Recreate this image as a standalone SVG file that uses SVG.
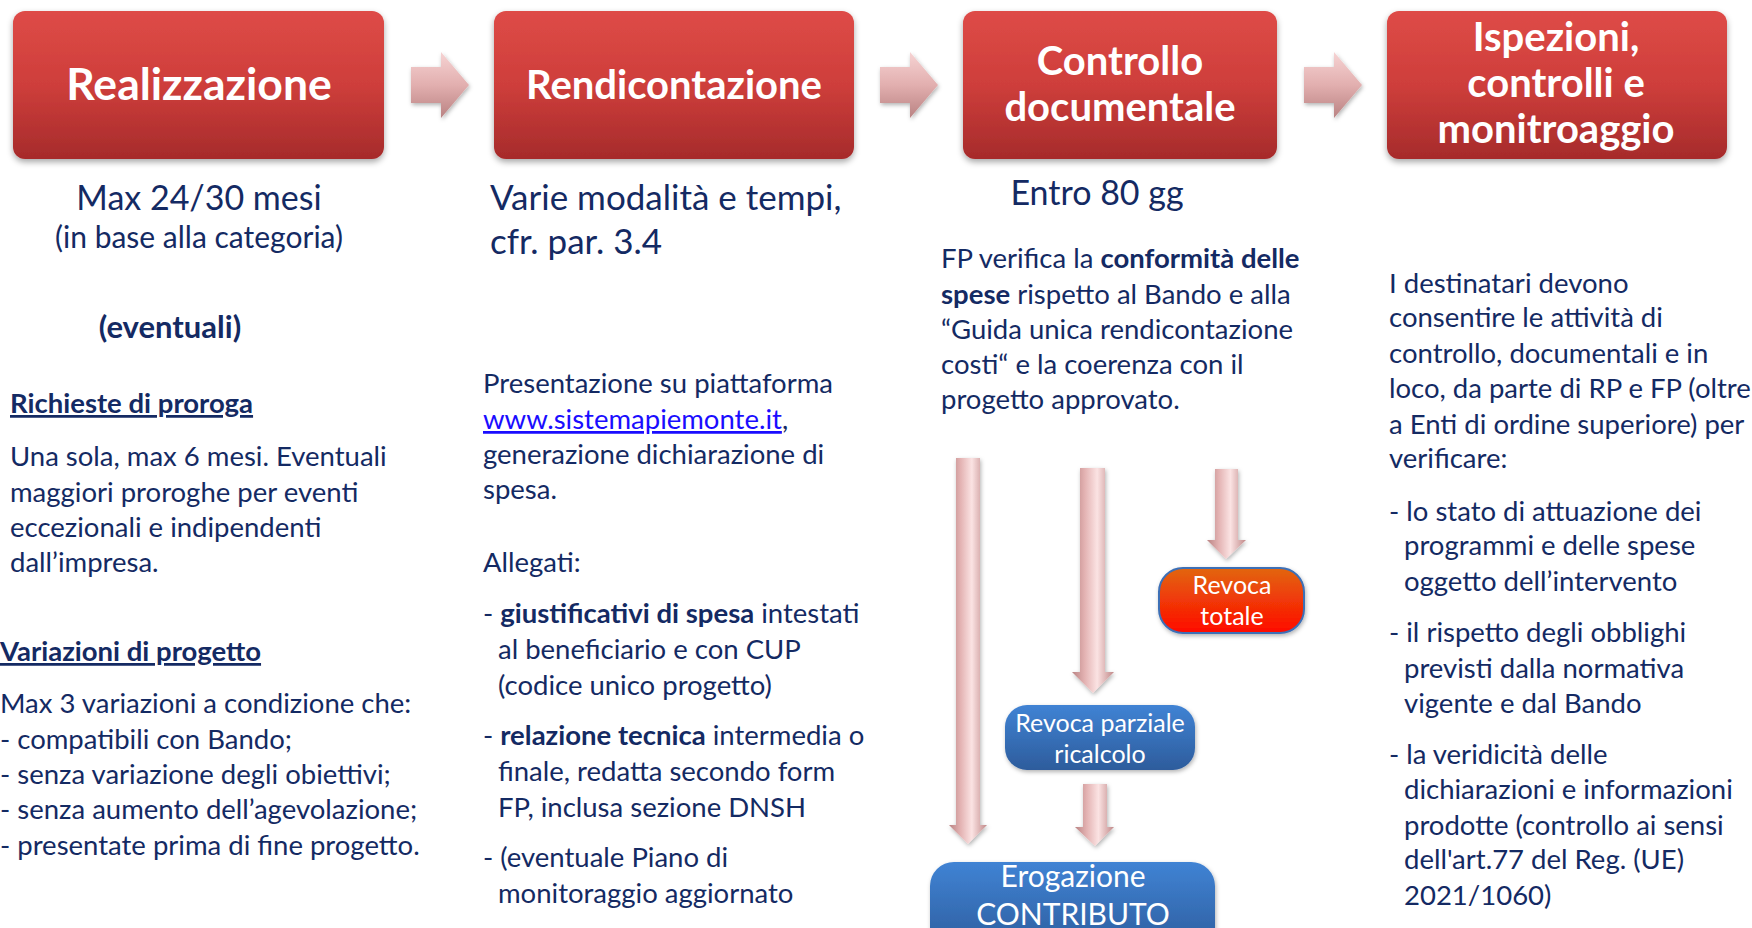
<svg xmlns="http://www.w3.org/2000/svg" width="1752" height="928" viewBox="0 0 1752 928">
<defs>
<linearGradient id="gRed" x1="0" y1="0" x2="0" y2="1">
<stop offset="0" stop-color="#DE4B47"/><stop offset="0.5" stop-color="#CE3E3B"/><stop offset="1" stop-color="#A62B2B"/>
</linearGradient>
<linearGradient id="gPinkH" x1="0" y1="0" x2="0" y2="1">
<stop offset="0" stop-color="#F6D3D3"/><stop offset="0.5" stop-color="#E2AFAF"/><stop offset="1" stop-color="#B98282"/>
</linearGradient>
<linearGradient id="gPinkV" x1="0" y1="0" x2="1" y2="0">
<stop offset="0" stop-color="#B98383"/><stop offset="0.3" stop-color="#E3B2B2"/><stop offset="0.6" stop-color="#FBE3E3"/><stop offset="1" stop-color="#C08888"/>
</linearGradient>
<linearGradient id="gBlue" x1="0" y1="0" x2="0" y2="1">
<stop offset="0" stop-color="#4083D4"/><stop offset="1" stop-color="#2D5C9C"/>
</linearGradient>
<linearGradient id="gOrange" x1="0" y1="0" x2="0" y2="1">
<stop offset="0" stop-color="#E2660E"/><stop offset="1" stop-color="#FF0A00"/>
</linearGradient>
<filter id="sh" x="-10%" y="-10%" width="120%" height="130%">
<feDropShadow dx="0" dy="3" stdDeviation="3" flood-color="#000" flood-opacity="0.35"/>
</filter>
<filter id="sh2" x="-20%" y="-10%" width="140%" height="130%">
<feDropShadow dx="1" dy="2" stdDeviation="2" flood-color="#000" flood-opacity="0.3"/>
</filter>
</defs>
<style>
text{font-family:Lato,"Liberation Sans",sans-serif;}
.t{fill:#fff;font-weight:700;font-size:40px;text-anchor:middle;}
.b{fill:#142A63;font-size:27.5px;}
.sub{fill:#142A63;font-size:34px;}
.bold{font-weight:700;}
.u{text-decoration:underline;}
.w{fill:#fff;text-anchor:middle;}
.link{fill:#1A0DFF;text-decoration:underline;}
.red{fill:url(#gRed);filter:url(#sh);}
.pa{fill:url(#gPinkH);filter:url(#sh2);}
.pd{fill:url(#gPinkV);filter:url(#sh2);}
</style>
<rect width="1752" height="928" fill="#fff"/>

<g id="connectors">
<path class="pa" d="M411,67 H441 V52 L469,85 L441,118 V103 H411 Z"/>
<path class="pa" d="M880,67 H910 V52 L938,85 L910,118 V103 H880 Z"/>
<path class="pa" d="M1304,67 H1334 V52 L1362,85 L1334,118 V103 H1304 Z"/>
<path class="pd" d="M956,458 H980 V825 H987 L968,844 L949,825 H956 Z"/>
<path class="pd" d="M1080,468 H1105 V672 H1114 L1093,693 L1072,672 H1080 Z"/>
<path class="pd" d="M1215,469 H1238 V540 H1246 L1226,559 L1207,540 H1215 Z"/>
<path class="pd" d="M1083,784 H1107 V827 H1114 L1095,846 L1075,827 H1083 Z"/>
</g>

<g id="n-realizzazione">
<rect class="red" x="13" y="11" width="371" height="148" rx="12"/>
<text class="t" x="199" y="100" style="font-size:44.5px">Realizzazione</text>
</g>
<g id="n-rendicontazione">
<rect class="red" x="494" y="11" width="360" height="148" rx="12"/>
<text class="t" x="674" y="99">Rendicontazione</text>
</g>
<g id="n-controllo">
<rect class="red" x="963" y="11" width="314" height="148" rx="12"/>
<text class="t" x="1120" y="75">Controllo</text>
<text class="t" x="1120" y="121">documentale</text>
</g>
<g id="n-ispezioni">
<rect class="red" x="1387" y="11" width="340" height="148" rx="12"/>
<text class="t" x="1556" y="51">Ispezioni,</text>
<text class="t" x="1556" y="97">controlli e</text>
<text class="t" x="1556" y="143">monitroaggio</text>
</g>

<g id="n-revoca-totale">
<rect x="1159" y="568" width="145" height="65" rx="24" fill="url(#gOrange)" stroke="#3C6FB6" stroke-width="2" filter="url(#sh2)"/>
<text class="w" x="1232" y="594" font-size="25">Revoca</text>
<text class="w" x="1232" y="625" font-size="25">totale</text>
</g>
<g id="n-revoca-parziale">
<rect x="1005" y="705" width="190" height="65" rx="22" fill="url(#gBlue)" filter="url(#sh2)"/>
<text class="w" x="1100" y="732" font-size="25">Revoca parziale</text>
<text class="w" x="1100" y="763" font-size="25">ricalcolo</text>
</g>
<g id="n-erogazione">
<rect x="930" y="862" width="285" height="90" rx="24" fill="url(#gBlue)" filter="url(#sh2)"/>
<text class="w" x="1073" y="887" font-size="30">Erogazione</text>
<text class="w" x="1073" y="925" font-size="30">CONTRIBUTO</text>
</g>

<g id="col1">
<text class="sub" x="199" y="210" text-anchor="middle">Max 24/30 mesi</text>
<text class="b" x="199" y="248" text-anchor="middle" style="font-size:30px">(in base alla categoria)</text>
<text class="b bold" x="170" y="338" text-anchor="middle" style="font-size:31px">(eventuali)</text>
<text class="b bold u" x="10" y="413">Richieste di proroga</text>
<text class="b" x="10" y="466">Una sola, max 6 mesi. Eventuali</text>
<text class="b" x="10" y="502">maggiori proroghe per eventi</text>
<text class="b" x="10" y="537">eccezionali e indipendenti</text>
<text class="b" x="10" y="572">dall’impresa.</text>
<text class="b bold u" x="0" y="661">Variazioni di progetto</text>
<text class="b" x="0" y="713">Max 3 variazioni a condizione che:</text>
<text class="b" x="0" y="749">- compatibili con Bando;</text>
<text class="b" x="0" y="784">- senza variazione degli obiettivi;</text>
<text class="b" x="0" y="819">- senza aumento dell’agevolazione;</text>
<text class="b" x="0" y="855">- presentate prima di fine progetto.</text>
</g>

<g id="col2">
<text class="sub" x="490" y="210" style="font-size:35px">Varie modalità e tempi,</text>
<text class="sub" x="490" y="254" style="font-size:35px">cfr. par. 3.4</text>
<text class="b" x="483" y="393">Presentazione su piattaforma</text>
<text class="b" x="483" y="429"><tspan class="link">www.sistemapiemonte.it</tspan>,</text>
<text class="b" x="483" y="464">generazione dichiarazione di</text>
<text class="b" x="483" y="499">spesa.</text>
<text class="b" x="483" y="572">Allegati:</text>
<text class="b" x="483" y="623">- <tspan class="bold">giustificativi di spesa</tspan> intestati</text>
<text class="b" x="498" y="659">al beneficiario e con CUP</text>
<text class="b" x="498" y="695">(codice unico progetto)</text>
<text class="b" x="483" y="745">- <tspan class="bold">relazione tecnica</tspan> intermedia o</text>
<text class="b" x="498" y="781">finale, redatta secondo form</text>
<text class="b" x="498" y="817">FP, inclusa sezione DNSH</text>
<text class="b" x="483" y="867">- (eventuale Piano di</text>
<text class="b" x="498" y="903">monitoraggio aggiornato</text>
</g>

<g id="col3">
<text class="sub" x="1097" y="205" text-anchor="middle">Entro 80 gg</text>
<text class="b" x="941" y="268">FP verifica la <tspan class="bold">conformità delle</tspan></text>
<text class="b" x="941" y="304"><tspan class="bold">spese</tspan> rispetto al Bando e alla</text>
<text class="b" x="941" y="339">“Guida unica rendicontazione</text>
<text class="b" x="941" y="374">costi“ e la coerenza con il</text>
<text class="b" x="941" y="409">progetto approvato.</text>
</g>

<g id="col4">
<text class="b" x="1389" y="293">I destinatari devono</text>
<text class="b" x="1389" y="327">consentire le attività di</text>
<text class="b" x="1389" y="363">controllo, documentali e in</text>
<text class="b" x="1389" y="398">loco, da parte di RP e FP (oltre</text>
<text class="b" x="1389" y="434">a Enti di ordine superiore) per</text>
<text class="b" x="1389" y="468">verificare:</text>
<text class="b" x="1389" y="521">- lo stato di attuazione dei</text>
<text class="b" x="1404" y="555">programmi e delle spese</text>
<text class="b" x="1404" y="591">oggetto dell’intervento</text>
<text class="b" x="1389" y="642">- il rispetto degli obblighi</text>
<text class="b" x="1404" y="678">previsti dalla normativa</text>
<text class="b" x="1404" y="713">vigente e dal Bando</text>
<text class="b" x="1389" y="764">- la veridicità delle</text>
<text class="b" x="1404" y="799">dichiarazioni e informazioni</text>
<text class="b" x="1404" y="835">prodotte (controllo ai sensi</text>
<text class="b" x="1404" y="869">dell'art.77 del Reg. (UE)</text>
<text class="b" x="1404" y="905">2021/1060)</text>
</g>
</svg>
